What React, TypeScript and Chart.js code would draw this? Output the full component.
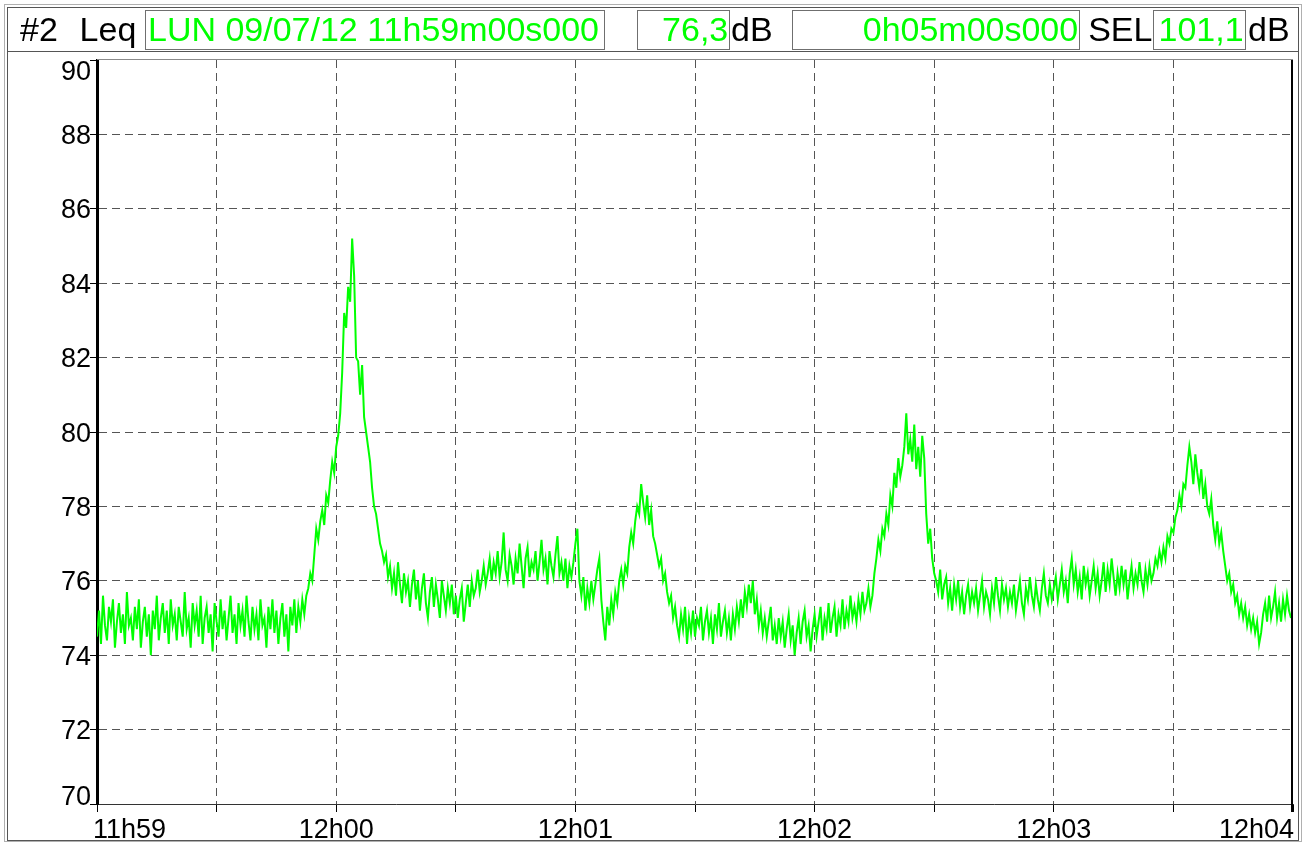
import React, { useEffect, useRef } from 'react';
import { Chart, registerables } from 'chart.js';

Chart.register(...registerables);

// ---- data (one Leq sample every 0.5 s, 11h59m00s -> 12h03m59.5s) ----
const SAMPLE_STEP_S = 0.5;
const LEQ_DB: number[] = [
  74.5, 75.2, 74.3, 75.6, 74.8, 74.4, 75.3, 74.9, 75.5, 74.2, 74.9, 75.4, 74.6, 75.1, 74.3, 75.7, 74.8, 75.0, 74.4, 75.3,
  74.7, 75.5, 74.2, 74.9, 75.3, 74.5, 75.1, 74.0, 75.2, 74.7, 75.6, 74.4, 75.0, 75.4, 74.6, 75.2, 74.3, 75.5, 74.8, 75.1,
  74.4, 75.3, 74.9, 74.5, 75.7, 74.7, 75.0, 74.2, 75.4, 74.8, 75.2, 74.5, 75.6, 74.3, 75.0, 75.3, 74.6, 75.1, 74.1, 75.4,
  74.9, 74.5, 75.5, 74.7, 75.2, 74.4, 75.0, 75.6, 74.6, 75.1, 74.3, 75.4, 74.8, 75.2, 74.5, 75.6, 74.9, 74.4, 75.3, 74.7,
  75.1, 74.4, 75.5, 74.8, 75.0, 74.2, 75.3, 74.7, 75.5, 74.6, 75.2, 74.3, 75.0, 75.4, 74.5, 75.1, 74.1, 75.3, 74.8, 75.5,
  74.6, 75.3, 74.9, 75.5, 75.1, 75.6, 75.8, 76.2, 76.0, 76.7, 77.4, 77.1, 77.6, 77.9, 77.5, 78.3, 78.1, 78.7, 79.2, 78.9,
  79.6, 79.9, 80.5, 81.6, 83.2, 82.8, 83.9, 83.5, 85.2, 84.2, 82.0, 81.9, 81.0, 81.8, 80.4, 80.0, 79.6, 79.2, 78.5, 78.0,
  77.8, 77.4, 77.0, 76.8, 76.5, 76.7, 76.1, 76.4, 75.8, 76.2, 75.6, 76.5, 75.9, 75.4, 76.2, 75.7, 76.0, 75.3, 75.9, 76.3,
  75.5, 76.0, 75.2, 75.8, 76.2, 75.4, 75.0, 75.7, 76.1, 75.3, 75.9, 75.5, 75.0, 76.0, 75.6, 75.2, 75.8, 75.4, 75.9, 75.1,
  75.6, 75.0, 75.5, 75.8, 74.9, 75.4, 75.9, 75.3, 76.0, 75.6, 75.8, 76.3, 75.7, 76.0, 76.4, 75.9, 76.2, 76.6, 76.0, 76.5,
  76.2, 76.8, 76.1, 76.5, 77.3, 76.3, 76.0, 76.7, 76.4, 75.9, 76.6, 76.2, 77.0, 76.4, 75.8, 76.6, 76.9, 76.1, 76.5, 76.3,
  76.8, 76.0, 76.5, 77.1, 76.3, 76.6, 75.9, 76.8, 76.4, 76.1, 76.7, 77.2, 76.2, 76.5, 76.0, 76.6, 75.8, 76.4, 76.1, 76.5,
  77.0, 77.4, 76.0, 75.6, 76.1, 75.2, 75.8, 75.4, 76.0, 75.5, 75.9, 76.3, 76.6, 75.5, 74.9, 74.4, 75.3, 74.8, 75.5, 75.1,
  75.7, 75.4, 76.0, 76.3, 75.9, 76.4, 76.2, 76.9, 77.3, 77.0, 77.6, 78.0, 77.8, 78.6, 78.1, 77.7, 78.3, 77.5, 77.9, 77.2,
  77.0, 76.7, 76.4, 76.6, 76.0, 76.2, 75.7, 75.4, 75.6, 75.0, 75.3, 74.8, 74.5, 75.1, 74.7, 75.3, 74.3, 75.0, 74.6, 75.2,
  74.5, 75.0, 74.8, 75.3, 74.4, 74.9, 75.2, 74.6, 75.0, 74.3, 75.1, 74.7, 75.4, 74.5, 74.9, 75.2, 74.6, 75.0, 74.4, 75.1,
  74.7, 75.3, 74.9, 75.5, 75.0, 75.7, 75.3, 75.9, 75.4, 76.0, 75.1, 75.5, 74.8, 75.2, 74.6, 75.0, 74.5, 74.9, 75.3, 74.4,
  74.8, 74.3, 75.0, 74.5, 74.9, 74.2, 74.7, 75.1, 74.4, 74.8, 74.0, 74.6, 75.0, 74.3, 74.9, 75.2, 74.5, 74.8, 74.1, 74.7,
  75.1, 74.5, 74.9, 75.3, 74.4, 75.0, 74.7, 75.4, 74.6, 75.0, 75.3, 74.5, 75.1, 74.8, 75.5, 74.7, 75.2, 74.9, 75.6, 75.0,
  75.3, 74.9, 75.5, 75.1, 75.7, 75.2, 75.4, 75.8, 75.3, 75.6, 76.2, 76.6, 77.1, 76.8, 77.4, 77.2, 77.8, 77.5, 78.3, 78.0,
  78.9, 78.5, 79.3, 78.8, 79.1, 79.6, 80.5, 79.4, 79.8, 79.2, 80.2, 79.0, 79.6, 78.8, 79.9, 79.3, 77.8, 77.0, 77.4, 76.6,
  76.2, 76.0, 75.7, 76.3, 75.5, 75.9, 76.1, 75.4, 75.8, 75.2, 75.9, 75.5, 76.0, 75.3, 75.7, 75.1, 75.6, 75.9, 75.3, 75.7,
  75.4, 75.8, 75.2, 75.6, 76.0, 75.3, 75.7, 75.5, 75.1, 75.8, 75.4, 76.1, 75.6, 75.2, 75.9, 75.5, 75.8, 75.3, 75.7, 75.4,
  75.9, 75.2, 75.6, 76.0, 75.4, 75.1, 75.8, 75.5, 76.1, 75.6, 75.3, 75.9, 75.5, 75.2, 75.8, 76.2, 75.6, 75.4, 75.9, 75.5,
  75.8, 76.1, 75.5, 75.9, 76.3, 75.7, 76.0, 75.4, 76.2, 76.6, 75.9, 76.3, 75.7, 76.1, 75.5, 76.4, 75.9, 76.2, 75.6, 76.0,
  76.4, 75.8, 76.2, 75.6, 76.0, 76.5, 75.7, 76.3, 75.9, 76.6, 76.1, 75.6, 76.2, 75.8, 76.4, 75.9, 76.3, 75.5, 76.0, 76.4,
  75.8, 76.2, 75.9, 76.5, 76.0, 75.7, 76.3, 75.9, 76.4, 76.0, 76.2, 76.6, 76.4, 76.8, 76.5, 76.9, 76.6, 77.2, 77.0, 77.4,
  77.3, 77.7, 77.9, 78.3, 78.0, 78.6, 78.5, 79.1, 79.6, 79.2, 78.6, 79.4, 78.9, 78.5, 79.0, 78.2, 78.6, 78.0, 77.8, 78.2,
  77.5, 77.1, 77.6, 77.0, 77.3, 76.8, 76.4, 76.0, 76.2, 75.7, 75.9, 75.4, 75.6, 75.1, 75.4, 75.0, 75.3, 74.8, 75.1, 74.7,
  75.0, 74.6, 74.9, 74.3, 74.6, 75.1, 75.4, 74.9, 75.6, 75.0, 75.3, 75.7, 75.0, 75.4, 74.9, 75.5, 75.1, 75.6, 75.2, 75.0,
];

const X_TICK_LABELS = ['11h59', '12h00', '12h01', '12h02', '12h03', '12h04'];
const X_LABEL_STEP_S = 60;
const X_TICK_STEP_S = 30;
const Y_MIN = 70;
const Y_MAX = 90;
const Y_STEP = 2;

const HEADER_CHANNEL = '#2 Leq';
const HEADER_START = 'LUN 09/07/12 11h59m00s000';
const HEADER_LEQ = '76,3';
const HEADER_UNIT = 'dB';
const HEADER_DURATION = '0h05m00s000';
const HEADER_SEL_LABEL = 'SEL';
const HEADER_SEL = '101,1';

const FONT = '"Liberation Sans", Arial, Helvetica, sans-serif';
const GREEN = '#00ff00';
const TRANSPARENT = 'rgba(0,0,0,0)';

const framePlugin = {
  id: 'frameAndLabels',
  afterDraw(chart: any) {
    const { ctx, chartArea: a, scales } = chart;
    const x = scales.x;
    const y = scales.y;
    ctx.save();
    // top border (thin gray)
    ctx.strokeStyle = '#8a8a8a';
    ctx.lineWidth = 1;
    ctx.beginPath();
    ctx.moveTo(a.left, Math.round(a.top) - 0.5);
    ctx.lineTo(a.right, Math.round(a.top) - 0.5);
    ctx.stroke();
    // right border (black)
    ctx.strokeStyle = '#000';
    ctx.lineWidth = 2;
    ctx.beginPath();
    ctx.moveTo(a.right - 1, a.top);
    ctx.lineTo(a.right - 1, a.bottom + 8);
    ctx.stroke();

    ctx.fillStyle = '#000';
    ctx.font = `27px ${FONT}`;
    ctx.textBaseline = 'alphabetic';
    // y labels, clamped inside the plot height
    ctx.textAlign = 'right';
    for (let v = Y_MIN; v <= Y_MAX; v += Y_STEP) {
      const py = y.getPixelForValue(v);
      let base = py + 9.5;
      base = Math.max(base, a.top + 19.5);
      base = Math.min(base, a.bottom + 1);
      ctx.fillText(String(v), a.left - 6, base);
    }
    // x labels, first left-aligned, last right-aligned
    X_TICK_LABELS.forEach((lab, i) => {
      const px = x.getPixelForValue(i * X_LABEL_STEP_S);
      if (i === 0) {
        ctx.textAlign = 'left';
        ctx.fillText(lab, px - 4, a.bottom + 34);
      } else if (i === X_TICK_LABELS.length - 1) {
        ctx.textAlign = 'right';
        ctx.fillText(lab, px + 1, a.bottom + 34);
      } else {
        ctx.textAlign = 'center';
        ctx.fillText(lab, px, a.bottom + 34);
      }
    });
    ctx.restore();
  },
};

const STRETCH = 1.03;
const stretch = (origin: string): React.CSSProperties => ({
  display: 'inline-block',
  transform: `scaleX(${STRETCH})`,
  transformOrigin: origin,
  whiteSpace: 'nowrap',
});

const textBase: React.CSSProperties = {
  position: 'absolute',
  top: 10,
  height: 40,
  lineHeight: '40px',
  fontSize: 33,
  fontFamily: FONT,
  whiteSpace: 'nowrap',
};

const boxStyle = (left: number, width: number, align: 'left' | 'right'): React.CSSProperties => ({
  ...textBase,
  left,
  width,
  boxSizing: 'border-box',
  border: '1px solid #6f6f6f',
  lineHeight: '38px',
  color: GREEN,
  textAlign: align,
  paddingLeft: align === 'left' ? 2 : 0,
  paddingRight: align === 'right' ? 1 : 0,
  overflow: 'visible',
});

export default function App() {
  const canvasRef = useRef<HTMLCanvasElement | null>(null);

  useEffect(() => {
    if (!canvasRef.current) return;
    const points = LEQ_DB.map((v, i) => ({ x: i * SAMPLE_STEP_S, y: v }));
    const xMax = X_LABEL_STEP_S * (X_TICK_LABELS.length - 1);
    const chart = new Chart(canvasRef.current, {
      type: 'line',
      data: {
        datasets: [
          {
            label: 'Leq',
            data: points,
            borderColor: GREEN,
            backgroundColor: GREEN,
            borderWidth: 2,
            pointRadius: 0,
            tension: 0,
            fill: false,
          },
        ],
      },
      options: {
        animation: false,
        responsive: false,
        events: [],
        layout: { padding: { top: 60, right: 14, left: 0, bottom: 0 } },
        plugins: { legend: { display: false }, tooltip: { enabled: false } },
        scales: {
          x: {
            type: 'linear',
            min: 0,
            max: xMax,
            z: 1,
            afterFit: (s: any) => {
              s.height = 39;
            },
            ticks: { stepSize: X_TICK_STEP_S, display: false },
            grid: {
              color: (c: any) =>
                c.tick && (c.tick.value === 0 || c.tick.value === xMax) ? TRANSPARENT : '#555',
              tickColor: '#000',
              tickLength: 8,
              lineWidth: 1,
            },
            border: { display: true, color: '#333', width: 1, dash: [8, 5] },
          },
          y: {
            type: 'linear',
            min: Y_MIN,
            max: Y_MAX,
            z: 1,
            afterFit: (s: any) => {
              s.width = 97;
            },
            ticks: { stepSize: Y_STEP, display: false },
            grid: {
              color: (c: any) =>
                c.tick && (c.tick.value === Y_MIN || c.tick.value === Y_MAX) ? TRANSPARENT : '#555',
              tickColor: '#000',
              tickLength: 7,
              lineWidth: 1,
            },
            border: { display: true, color: '#000', width: 3, dash: [8, 5] },
          },
        },
      },
      plugins: [framePlugin],
    } as any);
    return () => chart.destroy();
  }, []);

  return (
    <div
      style={{
        position: 'absolute',
        left: 0,
        top: 0,
        width: 1307,
        height: 843,
        background: '#fff',
        overflow: 'hidden',
      }}
    >
      <canvas
        ref={canvasRef}
        width={1307}
        height={843}
        style={{ position: 'absolute', left: 0, top: 0, width: 1307, height: 843 }}
      />
      {/* outer frames */}
      <div
        style={{
          position: 'absolute',
          left: 4,
          top: 4,
          width: 1298,
          height: 838,
          boxSizing: 'border-box',
          border: '1px solid #b0b0b0',
          pointerEvents: 'none',
        }}
      />
      <div
        style={{
          position: 'absolute',
          left: 7,
          top: 7,
          width: 1292,
          height: 834,
          boxSizing: 'border-box',
          border: '1px solid #555',
          pointerEvents: 'none',
        }}
      />
      <div style={{ position: 'absolute', left: 7, top: 51, width: 1292, height: 1, background: '#555' }} />

      {/* header */}
      <div style={{ ...textBase, left: 20, color: '#000', wordSpacing: 12 }}>
        <span style={stretch('left center')}>{HEADER_CHANNEL}</span>
      </div>
      <div style={boxStyle(145, 460, 'left')}>
        <span style={stretch('left center')}>{HEADER_START}</span>
      </div>
      <div style={boxStyle(637, 93, 'right')}>
        <span style={stretch('right center')}>{HEADER_LEQ}</span>
      </div>
      <div style={{ ...textBase, left: 731, color: '#000' }}>
        <span style={stretch('left center')}>{HEADER_UNIT}</span>
      </div>
      <div style={boxStyle(792, 288, 'right')}>
        <span style={stretch('right center')}>{HEADER_DURATION}</span>
      </div>
      <div style={{ ...textBase, right: 1307 - 1152, color: '#000', textAlign: 'right' }}>
        <span style={stretch('right center')}>{HEADER_SEL_LABEL}</span>
      </div>
      <div style={boxStyle(1153, 93, 'right')}>
        <span style={stretch('right center')}>{HEADER_SEL}</span>
      </div>
      <div style={{ ...textBase, left: 1248, color: '#000' }}>
        <span style={stretch('left center')}>{HEADER_UNIT}</span>
      </div>
    </div>
  );
}
